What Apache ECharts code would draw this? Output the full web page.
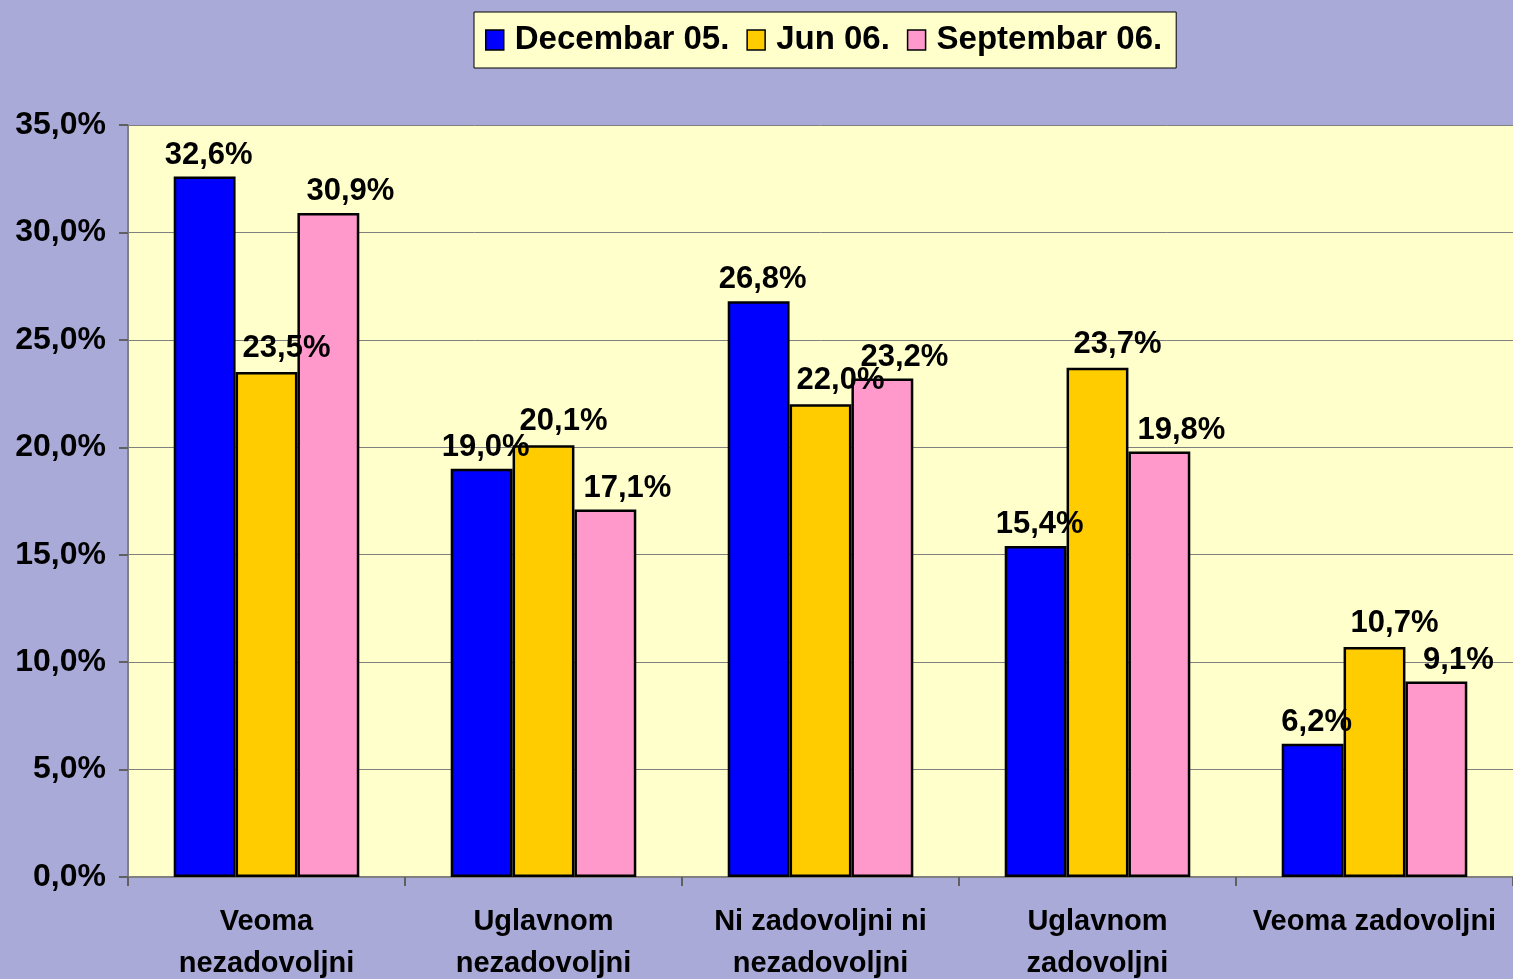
<!DOCTYPE html>
<html>
<head>
<meta charset="utf-8">
<title>Zadovoljstvo</title>
<script src="https://cdn.jsdelivr.net/npm/echarts@6/dist/echarts.min.js"></script>
<style>
  html, body { margin: 0; padding: 0; background: #AAAAD8; }
  #main { width: 1513px; height: 979px; }
</style>
</head>
<body>
<div id="main"></div>
<script>
// kategorije (x osa)
const categories = ['Veoma\nnezadovoljni', 'Uglavnom\nnezadovoljni', 'Ni zadovoljni ni\nnezadovoljni', 'Uglavnom\nzadovoljni', 'Veoma zadovoljni']
const seriesNames = ['Decembar 05.', 'Jun 06.', 'Septembar 06.']
// vrednosti u procentima
const dec05 = [32.6, 19.0, 26.8, 15.4, 6.2]
const jun06 = [23.5, 20.1, 22.0, 23.7, 10.7]
const sep06 = [30.9, 17.1, 23.2, 19.8, 9.1]
const yTicks = { min: 0, max: 35, interval: 5 }

const colors = ['#0000FF', '#FFCC00', '#FF99CC']
const labelOffsets = [[4, 2], [20, 0], [22, 2]]
const fontFam = 'Liberation Sans, Arial, sans-serif'

function pct(v) {
    return v.toFixed(1).replace('.', ',') + '%'
}

function makeSeries(name, data, i) {
    return {
        name: name,
        type: 'bar',
        data: data,
        barGap: '0%',
        barCategoryGap: '33%',
        itemStyle: { color: colors[i], borderColor: '#000', borderWidth: 2.5 },
        label: {
            show: true,
            position: 'top',
            distance: 8,
            offset: labelOffsets[i],
            color: '#000',
            fontFamily: fontFam,
            fontWeight: 'bold',
            fontSize: 31,
            formatter: function (p) { return pct(p.value) }
        }
    }
}

var myChart = echarts.init(document.getElementById('main'))

var option = {
    backgroundColor: '#AAAAD8',
    animation: false,
    legend: {
        left: 474,
        top: 12,
        data: seriesNames,
        backgroundColor: '#FFFFCC',
        borderColor: '#000',
        borderWidth: 1,
        padding: [8, 14, 8, 11],
        itemWidth: 18,
        itemHeight: 20,
        itemGap: 17,
        icon: 'rect',
        itemStyle: { borderColor: '#000', borderWidth: 1.5 },
        textStyle: {
            fontFamily: fontFam,
            fontWeight: 'bold',
            fontSize: 33,
            lineHeight: 40,
            color: '#000',
            padding: [0, 0, 0, 6]
        }
    },
    grid: {
        left: 128,
        right: 0,
        top: 125,
        bottom: 102,
        outerBoundsMode: 'none',
        containLabel: false,
        show: true,
        backgroundColor: '#FFFFCC',
        borderWidth: 0
    },
    xAxis: {
        type: 'category',
        data: categories,
        axisLine: { lineStyle: { color: '#808080', width: 2 } },
        axisTick: { show: true, length: 9, lineStyle: { color: '#606060', width: 2 } },
        axisLabel: {
            margin: 24,
            color: '#000',
            fontFamily: fontFam,
            fontWeight: 'bold',
            fontSize: 29,
            lineHeight: 42,
            interval: 0
        }
    },
    yAxis: {
        type: 'value',
        min: yTicks.min,
        max: yTicks.max,
        interval: yTicks.interval,
        axisLine: { show: true, lineStyle: { color: '#808080', width: 2 } },
        axisTick: { show: true, length: 9, lineStyle: { color: '#606060', width: 2 } },
        splitLine: { lineStyle: { color: '#808080', width: 1 } },
        axisLabel: {
            margin: 22,
            color: '#000',
            fontFamily: fontFam,
            fontWeight: 'bold',
            fontSize: 32,
            formatter: function (v) { return pct(v) }
        }
    },
    series: [
        makeSeries(seriesNames[0], dec05, 0),
        makeSeries(seriesNames[1], jun06, 1),
        makeSeries(seriesNames[2], sep06, 2)
    ]
}

myChart.setOption(option)
</script>
</body>
</html>
